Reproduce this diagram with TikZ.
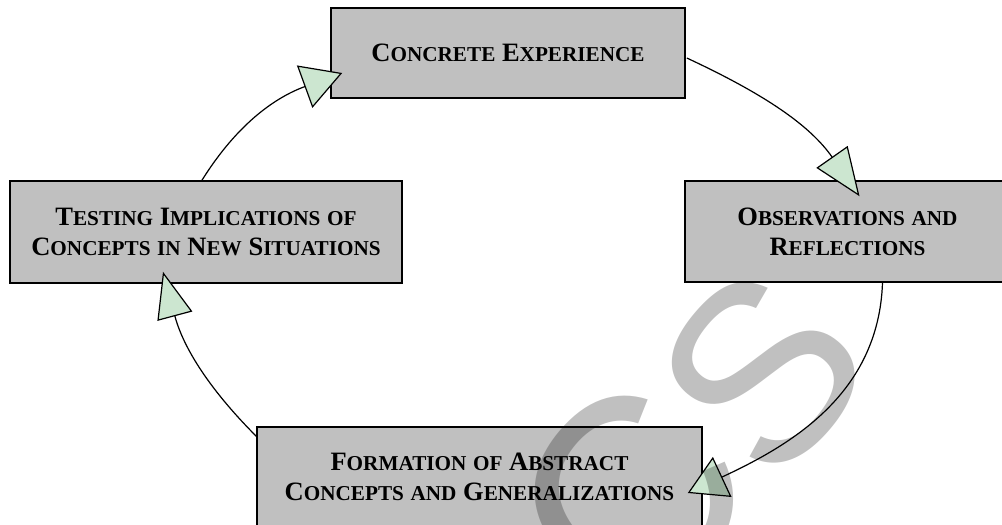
\documentclass[tikz,border=0pt]{standalone}
\usepackage{fontspec}
\setmainfont{Liberation Serif}
\newfontfamily\wmfont{Liberation Sans}
\usetikzlibrary{arrows.meta,calc}
\definecolor{boxgray}{HTML}{C0C0C0}
\definecolor{tipgreen}{HTML}{CCE6D0}
\newcommand\SC[2]{#1{\fontsize{21.2}{30}\selectfont #2}}
\newcommand\SM[1]{{\fontsize{21.2}{30}\selectfont #1}}
\tikzset{
  stagebox/.style={draw=black, line width=1.6pt, fill=boxgray, inner sep=0pt,
    align=center, font=\bfseries\fontsize{26.5}{30}\selectfont},
  cyc/.style={line width=1.2pt, draw=black},
  wm/.style={inner sep=0pt, rotate=50, text=black, text opacity=0.247,
    font=\wmfont\fontsize{252}{252}\selectfont}
}
\begin{document}
\begin{tikzpicture}[x=1pt,y=1pt]
\useasboundingbox (0,0) rectangle (1002,525);
\clip (0,0) rectangle (1002,525);
\fill[white] (0,0) rectangle (1002,525);

\node[stagebox, minimum width=354pt, minimum height=90pt] (ce) at (508,472)
  {\SC{C}{ONCRETE} \SC{E}{XPERIENCE}};
\node[stagebox, minimum width=325pt, minimum height=101pt] (ob) at (847.5,293.5)
  {\SC{O}{BSERVATIONS} \SM{AND}\\ \SC{R}{EFLECTIONS}};
\node[stagebox, minimum width=392pt, minimum height=102pt] (te) at (206,293)
  {\SC{T}{ESTING} \SC{I}{MPLICATIONS} \SM{OF}\\ \SC{C}{ONCEPTS} \SM{IN} \SC{N}{EW} \SC{S}{ITUATIONS}};
\node[stagebox, minimum width=445pt, minimum height=100pt] (fo) at (479.5,48)
  {\SC{F}{ORMATION} \SM{OF} \SC{A}{BSTRACT}\\ \SC{C}{ONCEPTS} \SM{AND} \SC{G}{ENERALIZATIONS}};

\draw[cyc, -{Triangle[length=40pt, width=45pt, fill=tipgreen]}]
  ($(te.north)+(-4,0)$) to[out=58, in=200] ($(ce.west)+(12,-20)$);
\draw[cyc, -{Triangle[length=48pt, width=38pt, fill=tipgreen]}]
  ($(ce.east)+(1,-5)$) to[out=-25, in=125] ($(ob.north)+(12,-16)$);
\draw[cyc, -{Triangle[length=38pt, width=44pt, fill=tipgreen]}]
  ($(ob.south)+(35,0)$) to[out=-92, in=25] ($(fo.east)+(-15,-16)$);
\draw[cyc, -{Triangle[length=46pt, width=36pt, fill=tipgreen]}]
  ($(fo.north west)+(1,-11)$) to[out=135, in=-75] ($(te.south)+(-43,12)$);

% translucent watermark laid over everything
\node[wm] (wmS) at (762,153) {S};
\node[wm, font=\wmfont\fontsize{278}{278}\selectfont] (wmC) at (631,25) {C};
\end{tikzpicture}
\end{document}
